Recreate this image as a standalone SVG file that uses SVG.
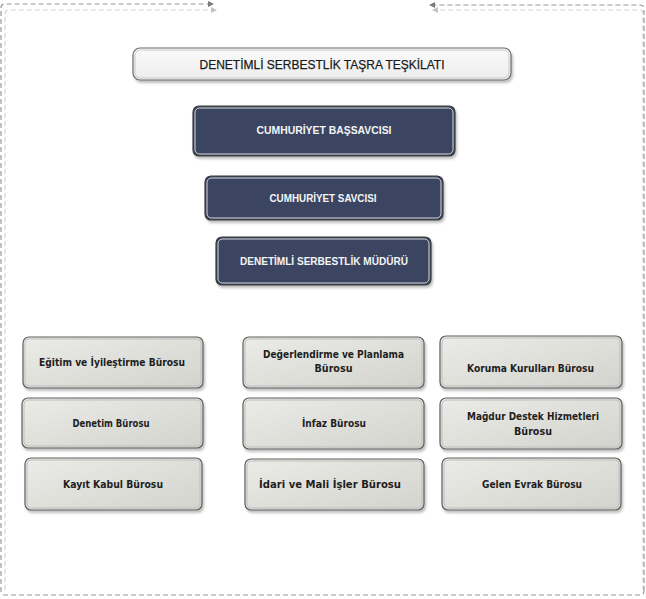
<svg xmlns="http://www.w3.org/2000/svg" width="646" height="599" viewBox="0 0 646 599">
<defs>
<style>
.frame{fill:none;stroke:#9a9a9a;stroke-width:1.2;stroke-dasharray:5 3}
.frameS{fill:none;stroke:#d6d6d6;stroke-width:1.2;stroke-dasharray:5 3}
.title{fill:url(#gTitle);stroke:#6a6a6a;stroke-width:1.2}
.titleIn{fill:none;stroke:#c8c8c8;stroke-width:1}
.dark{fill:#3a4562;stroke:#3a3a3a;stroke-width:1.2}
.darkIn{fill:none;stroke:#d8d8d8;stroke-width:1}
.gray{fill:url(#gGray);stroke:#5e5e5e;stroke-width:1.2}
.grayIn{fill:none;stroke:#bdbdbd;stroke-width:1}
.tt{font-family:"Liberation Sans",Arial,sans-serif;font-size:13px;fill:#1a1a1a;stroke:#1a1a1a;stroke-width:0.25;text-anchor:middle}
.tw{font-family:"Liberation Sans",Arial,sans-serif;font-weight:bold;font-size:10.5px;fill:#f4f4f4;text-anchor:middle}
.tb{font-family:"DejaVu Sans Condensed","DejaVu Sans",sans-serif;font-weight:bold;font-size:11px;fill:#1e1e1e;text-anchor:middle}
</style>
<linearGradient id="gTitle" x1="0" y1="0" x2="0" y2="1">
<stop offset="0" stop-color="#fbfbfb"/><stop offset="1" stop-color="#ececec"/>
</linearGradient>
<linearGradient id="gGray" x1="0" y1="0" x2="1" y2="1">
<stop offset="0" stop-color="#ebebe7"/><stop offset="1" stop-color="#d3d3ce"/>
</linearGradient>
<filter id="sh" x="-10%" y="-10%" width="130%" height="140%">
<feDropShadow dx="1.5" dy="2.5" stdDeviation="1.2" flood-color="#000" flood-opacity="0.25"/>
</filter>
<marker id="arr" markerWidth="6" markerHeight="6" refX="5" refY="3" orient="auto" markerUnits="userSpaceOnUse">
<path d="M0,0 L6,3 L0,6 Z" fill="#7a7a7a"/>
</marker>
<marker id="arrS" markerWidth="6" markerHeight="6" refX="5" refY="3" orient="auto" markerUnits="userSpaceOnUse">
<path d="M0,0 L6,3 L0,6 Z" fill="#c4c4c4"/>
</marker>
</defs>
<rect width="646" height="599" fill="#ffffff"/>
<g id="connectors">
<path class="frameS" d="M5,590 V14 Q5,10 9,10 H216" marker-end="url(#arrS)"/>
<path class="frameS" d="M643,590 V14 Q643,10 639,10 H433" marker-end="url(#arrS)"/>
<path class="frame" d="M1,592 V8 Q1,4 5,4 H213" marker-end="url(#arr)"/>
<path class="frame" d="M644,591 V9 Q644,5 640,5 H430" marker-end="url(#arr)"/>
<path class="frame" d="M3,595 H640 Q644,595 644,591"/>
</g>
<g id="title">
<rect class="title" x="133" y="48" width="378" height="32" rx="7" filter="url(#sh)"/>
<rect class="titleIn" x="135" y="50" width="374" height="28" rx="5.5"/>
<text class="tt" x="322" y="68.5" textLength="245" lengthAdjust="spacingAndGlyphs">DENETİMLİ SERBESTLİK TAŞRA TEŞKİLATI</text>
</g>
<g id="basSavci">
<rect class="dark" x="193" y="106" width="262" height="50" rx="6" filter="url(#sh)"/>
<rect class="darkIn" x="195" y="108" width="258" height="46" rx="4.5"/>
<text class="tw" x="324" y="134" textLength="135" lengthAdjust="spacingAndGlyphs">CUMHURİYET BAŞSAVCISI</text>
</g>
<g id="savci">
<rect class="dark" x="205" y="176" width="238" height="44" rx="6" filter="url(#sh)"/>
<rect class="darkIn" x="207" y="178" width="234" height="40" rx="4.5"/>
<text class="tw" x="323" y="201.5" textLength="107" lengthAdjust="spacingAndGlyphs">CUMHURİYET SAVCISI</text>
</g>
<g id="mudur">
<rect class="dark" x="216" y="237" width="215" height="48" rx="6" filter="url(#sh)"/>
<rect class="darkIn" x="218" y="239" width="211" height="44" rx="4.5"/>
<text class="tw" x="324" y="265" textLength="168" lengthAdjust="spacingAndGlyphs">DENETİMLİ SERBESTLİK MÜDÜRÜ</text>
</g>
<g id="egitim">
<rect class="gray" x="23" y="337" width="180" height="51" rx="6" filter="url(#sh)"/>
<rect class="grayIn" x="25" y="339" width="176" height="47" rx="4.5"/>
<text class="tb" x="112" y="366" textLength="146" lengthAdjust="spacingAndGlyphs">Eğitim ve İyileştirme Bürosu</text>
</g>
<g id="denetim">
<rect class="gray" x="22" y="398" width="181" height="50" rx="6" filter="url(#sh)"/>
<rect class="grayIn" x="24" y="400" width="177" height="46" rx="4.5"/>
<text class="tb" x="111" y="427" textLength="77" lengthAdjust="spacingAndGlyphs">Denetim Bürosu</text>
</g>
<g id="kayit">
<rect class="gray" x="25" y="458" width="177" height="52" rx="6" filter="url(#sh)"/>
<rect class="grayIn" x="27" y="460" width="173" height="48" rx="4.5"/>
<text class="tb" x="113" y="488" textLength="100" lengthAdjust="spacingAndGlyphs">Kayıt Kabul Bürosu</text>
</g>
<g id="degerlendirme">
<rect class="gray" x="243" y="337" width="181" height="51" rx="6" filter="url(#sh)"/>
<rect class="grayIn" x="245" y="339" width="177" height="47" rx="4.5"/>
<text class="tb" x="333.5" y="358" textLength="141" lengthAdjust="spacingAndGlyphs">Değerlendirme ve Planlama</text>
<text class="tb" x="333.5" y="372" textLength="38" lengthAdjust="spacingAndGlyphs">Bürosu</text>
</g>
<g id="infaz">
<rect class="gray" x="243" y="398" width="181" height="51" rx="6" filter="url(#sh)"/>
<rect class="grayIn" x="245" y="400" width="177" height="47" rx="4.5"/>
<text class="tb" x="334" y="427" textLength="64" lengthAdjust="spacingAndGlyphs">İnfaz Bürosu</text>
</g>
<g id="idari">
<rect class="gray" x="245" y="459" width="179" height="51" rx="6" filter="url(#sh)"/>
<rect class="grayIn" x="247" y="461" width="175" height="47" rx="4.5"/>
<text class="tb" x="330" y="488" textLength="142" lengthAdjust="spacingAndGlyphs">İdari ve Mali İşler Bürosu</text>
</g>
<g id="koruma">
<rect class="gray" x="440" y="336" width="182" height="52" rx="6" filter="url(#sh)"/>
<rect class="grayIn" x="442" y="338" width="178" height="48" rx="4.5"/>
<text class="tb" x="530.5" y="372" textLength="127" lengthAdjust="spacingAndGlyphs">Koruma Kurulları Bürosu</text>
</g>
<g id="magdur">
<rect class="gray" x="440" y="398" width="182" height="51" rx="6" filter="url(#sh)"/>
<rect class="grayIn" x="442" y="400" width="178" height="47" rx="4.5"/>
<text class="tb" x="533" y="420" textLength="132" lengthAdjust="spacingAndGlyphs">Mağdur Destek Hizmetleri</text>
<text class="tb" x="533" y="435" textLength="38" lengthAdjust="spacingAndGlyphs">Bürosu</text>
</g>
<g id="gelen">
<rect class="gray" x="442" y="458" width="179" height="52" rx="6" filter="url(#sh)"/>
<rect class="grayIn" x="444" y="460" width="175" height="48" rx="4.5"/>
<text class="tb" x="532" y="488" textLength="100" lengthAdjust="spacingAndGlyphs">Gelen Evrak Bürosu</text>
</g>
</svg>
